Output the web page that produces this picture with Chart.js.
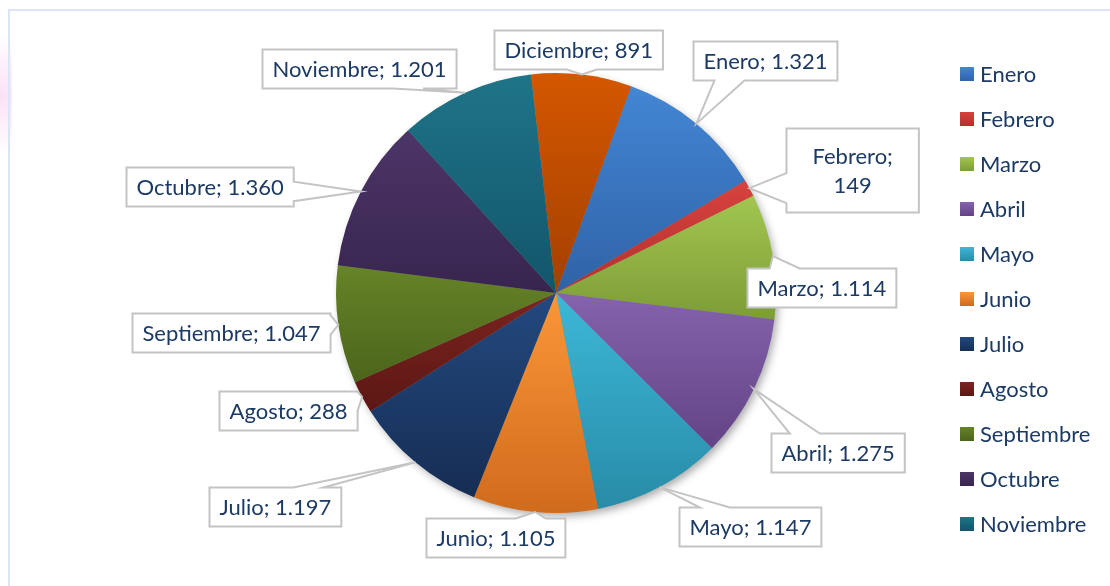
<!DOCTYPE html>
<html>
<head>
<meta charset="utf-8">
<script src="https://cdn.jsdelivr.net/npm/chart.js@4.4.1/dist/chart.umd.min.js"></script>
<style>
  html, body { margin: 0; padding: 0; background: #fff; }
  canvas { display: block; }
</style>
</head>
<body>
<canvas id="chart" width="1110" height="586"></canvas>
<script>
const months = ["Enero", "Febrero", "Marzo", "Abril", "Mayo", "Junio", "Julio",
  "Agosto", "Septiembre", "Octubre", "Noviembre", "Diciembre"];
const values = [1321, 149, 1114, 1275, 1147, 1105, 1197, 288, 1047, 1360, 1201, 891];
const topColors = ["#4386d4", "#d8423e", "#a2c650", "#8563ad", "#3cb8d8", "#fb9738",
  "#23497f", "#7c2420", "#668428", "#4c3568", "#1f7488", "#d45700"];
const bottomColors = ["#2f62a6", "#b3302d", "#7c9c36", "#634385", "#288ba7", "#cf6b1c",
  "#162d53", "#5b1714", "#4b641b", "#38254e", "#12556a", "#a34000"];
const wrapLabels = ["Febrero"];
const legendCount = 11; // Diciembre does not fit in the box

const textColor = "#1c3a64";
const font = "22px Lato";

function fmt(n) {
  return String(n).replace(/\B(?=(\d{3})+(?!\d))/g, ".");
}

function sliceGradient(context) {
  const i = context.dataIndex;
  const el = context.element;
  if (!el || !el.outerRadius) return topColors[i];
  const r = el.outerRadius;
  let a0 = el.startAngle, a1 = el.endAngle;
  const ys = [el.y, el.y + r * Math.sin(a0), el.y + r * Math.sin(a1)];
  for (let k = -2; k <= 3; k++) {
    const a = k * Math.PI + Math.PI / 2;
    if (a > a0 && a < a1) ys.push(el.y + r * Math.sin(a));
  }
  const y0 = Math.min(...ys), y1 = Math.max(...ys);
  const g = context.chart.ctx.createLinearGradient(0, y0, 0, y1 + 1);
  g.addColorStop(0, topColors[i]);
  g.addColorStop(1, bottomColors[i]);
  return g;
}

const framePlugin = {
  id: "frame",
  beforeDraw(chart) {
    const ctx = chart.ctx;
    ctx.save();
    const glow = ctx.createRadialGradient(0, 95, 2, 0, 95, 60);
    glow.addColorStop(0, "rgba(245,190,235,0.45)");
    glow.addColorStop(1, "rgba(245,190,235,0)");
    ctx.fillStyle = glow;
    ctx.fillRect(0, 30, 12, 130);
    ctx.strokeStyle = "#dbe6f4";
    ctx.lineWidth = 2;
    ctx.beginPath();
    ctx.moveTo(9, chart.height + 5);
    ctx.lineTo(9, 10);
    ctx.lineTo(chart.width + 5, 10);
    ctx.stroke();
    ctx.restore();
  }
};

const shadowPlugin = {
  id: "pieShadow",
  beforeDatasetsDraw(chart) {
    const arc = chart.getDatasetMeta(0).data[0];
    if (!arc) return;
    const ctx = chart.ctx;
    ctx.save();
    ctx.shadowColor = "rgba(0,0,0,0.35)";
    ctx.shadowBlur = 9;
    ctx.shadowOffsetX = 3;
    ctx.shadowOffsetY = 4;
    ctx.fillStyle = "#888";
    ctx.beginPath();
    ctx.arc(arc.x, arc.y, arc.outerRadius - 1, 0, Math.PI * 2);
    ctx.fill();
    ctx.restore();
  }
};

function calloutPath(ctx, x, y, w, h, tip) {
  const cx = x + w / 2, cy = y + h / 2;
  const dx = tip.x - cx, dy = tip.y - cy;
  const horiz = Math.abs(dx) / (w / 2) > Math.abs(dy) / (h / 2);
  const inside = tip.x > x && tip.x < x + w && tip.y > y && tip.y < y + h;
  const half = 15;
  ctx.beginPath();
  ctx.moveTo(x, y);
  if (!inside && !horiz && dy < 0) {
    const bx = Math.min(Math.max(tip.x, x + w * 0.25), x + w * 0.75);
    ctx.lineTo(bx - half, y); ctx.lineTo(tip.x, tip.y); ctx.lineTo(bx + half, y);
  }
  ctx.lineTo(x + w, y);
  if (!inside && horiz && dx > 0) {
    const by = Math.min(Math.max(tip.y, y + h * 0.25), y + h * 0.75);
    const hh = Math.min(half, h * 0.25);
    ctx.lineTo(x + w, by - hh); ctx.lineTo(tip.x, tip.y); ctx.lineTo(x + w, by + hh);
  }
  ctx.lineTo(x + w, y + h);
  if (!inside && !horiz && dy > 0) {
    const bx = Math.min(Math.max(tip.x, x + w * 0.25), x + w * 0.75);
    ctx.lineTo(bx + half, y + h); ctx.lineTo(tip.x, tip.y); ctx.lineTo(bx - half, y + h);
  }
  ctx.lineTo(x, y + h);
  if (!inside && horiz && dx < 0) {
    const by = Math.min(Math.max(tip.y, y + h * 0.25), y + h * 0.75);
    const hh = Math.min(half, h * 0.25);
    ctx.lineTo(x, by + hh); ctx.lineTo(tip.x, tip.y); ctx.lineTo(x, by - hh);
  }
  ctx.closePath();
}

const calloutPlugin = {
  id: "callouts",
  afterDatasetsDraw(chart, args, opts) {
    const ctx = chart.ctx;
    const meta = chart.getDatasetMeta(0);
    const data = chart.data.datasets[0].data;
    ctx.save();
    ctx.font = font;
    ctx.textAlign = "center";
    ctx.textBaseline = "middle";
    meta.data.forEach((arc, i) => {
      const mid = (arc.startAngle + arc.endAngle) / 2;
      const tip = {
        x: arc.x + Math.cos(mid) * arc.outerRadius,
        y: arc.y + Math.sin(mid) * arc.outerRadius
      };
      const label = chart.data.labels[i];
      const wrap = wrapLabels.includes(label);
      const lines = wrap ? [label + ";", fmt(data[i])] : [label + "; " + fmt(data[i])];
      const tw = Math.max(...lines.map(l => ctx.measureText(l).width));
      const padX = wrap ? 26 : 10, padY = wrap ? 13 : 5;
      const w = tw + padX * 2, h = lines.length * opts.lineHeight + padY * 2;
      const cx = tip.x + opts.offsets[i][0], cy = tip.y + opts.offsets[i][1];
      const x = Math.round(cx - w / 2) + 0.5, y = Math.round(cy - h / 2) + 0.5;
      calloutPath(ctx, x, y, w, h, tip);
      ctx.fillStyle = "#fff";
      ctx.fill();
      ctx.strokeStyle = "#c4c4c4";
      ctx.lineWidth = 2;
      ctx.lineJoin = "miter";
      ctx.stroke();
      ctx.fillStyle = textColor;
      lines.forEach((l, k) => {
        ctx.fillText(l, x + w / 2, y + padY + opts.lineHeight * (k + 0.5) + 1);
      });
    });
    ctx.restore();
  }
};

const legendPlugin = {
  id: "sideLegend",
  afterDraw(chart, args, opts) {
    const ctx = chart.ctx;
    ctx.save();
    ctx.font = font;
    ctx.textBaseline = "middle";
    for (let i = 0; i < legendCount; i++) {
      const y = opts.top + i * opts.step;
      const g = ctx.createLinearGradient(0, y - 7, 0, y + 7);
      g.addColorStop(0, topColors[i]);
      g.addColorStop(1, bottomColors[i]);
      ctx.fillStyle = g;
      ctx.fillRect(opts.left, y - 7, 14, 14);
      ctx.fillStyle = textColor;
      ctx.fillText(chart.data.labels[i], opts.left + 20, y + 1);
    }
    ctx.restore();
  }
};

const chart = new Chart(document.getElementById("chart"), {
  type: "pie",
  data: {
    labels: months,
    datasets: [{
      data: values,
      backgroundColor: sliceGradient,
      borderWidth: 0,
      hoverOffset: 0
    }]
  },
  options: {
    responsive: false,
    animation: false,
    events: [],
    rotation: 20,
    layout: { padding: { left: 336, right: 334, top: 73, bottom: 73 } },
    plugins: {
      legend: { display: false },
      tooltip: { enabled: false },
      callouts: {
        lineHeight: 29,
        offsets: [[69, -63], [103, -18], [49, 31], [84, 63], [90, 39], [-40, 25],
          [-141, 44], [-74, 14], [-107, 8], [-151, -5], [-106, -24], [-4, -25]]
      },
      sideLegend: { left: 960, top: 74, step: 45 }
    }
  },
  plugins: [framePlugin, shadowPlugin, calloutPlugin, legendPlugin]
});
chart.update();
</script>
</body>
</html>
